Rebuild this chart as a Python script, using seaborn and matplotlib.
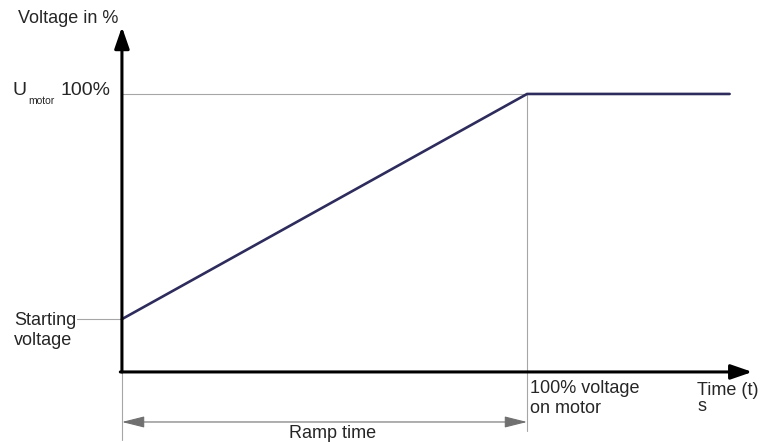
import matplotlib
matplotlib.use("Agg")
import matplotlib.pyplot as plt
import seaborn as sns
import pandas as pd

# ramp profile of the soft starter
time_s = [0, 10, 15]
voltage_pct = [19, 100, 100]
ramp_time = 10
start_voltage = 19
full_voltage = 100

sns.set_style("white")
plt.rcParams['font.family'] = ['Liberation Sans', 'DejaVu Sans']

fig = plt.figure(figsize=(7.6, 4.42), dpi=100)
ax = fig.add_axes([0, 0, 1, 1])
ax.set_xlim(-3.01, 15.75)
ax.set_ylim(-25.2, 133.8)
ax.axis('off')

grey = '#a6a6a6'
navy = '#2d2c5c'

# guide lines
ax.plot([0, ramp_time], [full_voltage, full_voltage], color=grey, lw=0.8)
ax.plot([ramp_time, ramp_time], [full_voltage, -21.2], color=grey, lw=0.8)
ax.plot([0, 0], [0, -24.5], color=grey, lw=0.8)
ax.plot([-1.1, 0], [start_voltage, start_voltage], color=grey, lw=0.8)

# ramp curve
df = pd.DataFrame({'t': time_s, 'u': voltage_pct})
sns.lineplot(data=df, x='t', y='u', ax=ax, color=navy, lw=1.9)

# axes arrows
head = dict(arrowstyle='-|>,head_length=1.3,head_width=0.45', mutation_scale=10,
            color='black', lw=2.2, shrinkA=0, shrinkB=0)
ax.annotate('', xy=(0, 124.1), xytext=(0, 0), arrowprops=head)
ax.annotate('', xy=(15.56, 0), xytext=(-0.04, 0), arrowprops=head)

# ramp time arrow
ax.annotate('', xy=(ramp_time, -18), xytext=(0, -18),
            arrowprops=dict(arrowstyle='<|-|>,head_length=1.4,head_width=0.35',
                            mutation_scale=10, color='#707070', lw=0.8,
                            shrinkA=0, shrinkB=0))

fs = 13
ax.text(-2.57, 127.3, 'Voltage in %', fontsize=fs, ha='left', va='center')
ax.text(-2.69, 101.2, 'U', fontsize=14, ha='left', va='center')
ax.text(-2.32, 97.3, 'motor', fontsize=7.5, ha='left', va='center')
ax.text(-1.51, 101.2, '100%', fontsize=14, ha='left', va='center')
ax.text(-2.67, 14.8, 'Starting\nvoltage', fontsize=fs, ha='left', va='center',
        linespacing=1.25)
ax.text(10.07, -9.6, '100% voltage\non motor', fontsize=fs, ha='left',
        va='center', linespacing=1.28)
ax.text(14.2, -9.6, 'Time (t)\ns', fontsize=fs, ha='left', va='center',
        linespacing=0.95)
ax.text(5.19, -22.0, 'Ramp time', fontsize=fs, ha='center', va='center')

fig.savefig('out.png', dpi=100)
